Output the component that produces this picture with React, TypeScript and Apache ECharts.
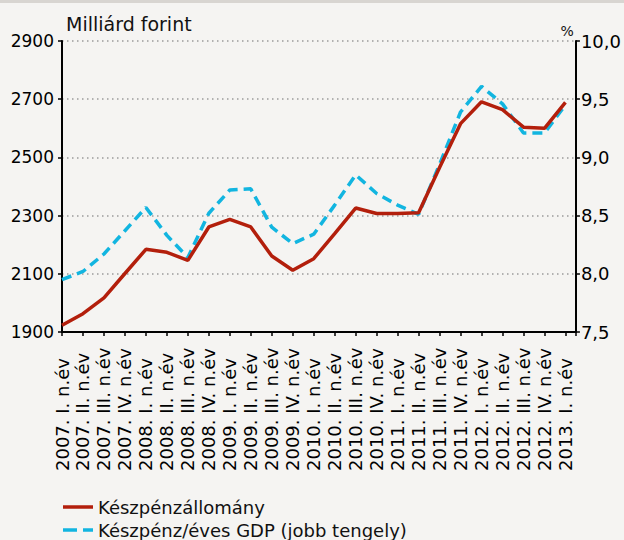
import React, { useEffect, useRef } from "react";
import * as echarts from "echarts";

const categories = [
  "2007. I. n.év", "2007. II. n.év", "2007. III. n.év", "2007. IV. n.év",
  "2008. I. n.év", "2008. II. n.év", "2008. III. n.év", "2008. IV. n.év",
  "2009. I. n.év", "2009. II. n.év", "2009. III. n.év", "2009. IV. n.év",
  "2010. I. n.év", "2010. II. n.év", "2010. III. n.év", "2010. IV. n.év",
  "2011. I. n.év", "2011. II. n.év", "2011. III. n.év", "2011. IV. n.év",
  "2012. I. n.év", "2012. II. n.év", "2012. III. n.év", "2012. IV. n.év",
  "2013. I. n.év",
];

const cashStock = [
  1923, 1963, 2017, 2101, 2184, 2174, 2146, 2261, 2287, 2261, 2161, 2112, 2152,
  2238, 2326, 2307, 2307, 2310, 2465, 2616, 2691, 2664, 2604, 2600, 2689,
];

const cashToGdp = [
  7.95, 8.02, 8.17, 8.37, 8.57, 8.33, 8.14, 8.52, 8.72, 8.73, 8.4, 8.26, 8.34,
  8.59, 8.85, 8.69, 8.59, 8.51, 8.94, 9.39, 9.61, 9.46, 9.21, 9.21, 9.45,
];

const seriesNames = ["Készpénzállomány", "Készpénz/éves GDP (jobb tengely)"];

const leftTicks = { min: 1900, max: 2900, interval: 200 };
const rightTicks = { min: 7.5, max: 10, interval: 0.5 };

const FONT = "DejaVu Sans";
const RED = "#b31f0c";
const BLUE = "#12b5e0";

export default function App() {
  const ref = useRef<HTMLDivElement>(null);

  useEffect(() => {
    if (!ref.current) return;
    const chart = echarts.init(ref.current, null, { renderer: "svg" });
    const axisLine = { show: true, lineStyle: { color: "#000", width: 2 } };
    const tick = { show: true, length: 4, lineStyle: { color: "#000", width: 1.5 } };
    chart.setOption({
      animation: false,
      backgroundColor: "#f5f4f2",
      textStyle: { fontFamily: FONT },
      graphic: [
        {
          type: "rect",
          left: 0,
          top: 0,
          shape: { width: 624, height: 3 },
          style: { fill: "#d8d5d1" },
        },
        {
          type: "line",
          shape: { x1: 63, y1: 507, x2: 93, y2: 507 },
          style: { stroke: RED, lineWidth: 3.5 },
        },
        {
          type: "text",
          x: 98,
          y: 507,
          style: {
            text: seriesNames[0],
            fontFamily: FONT,
            fontSize: 18,
            fill: "#111",
            verticalAlign: "middle",
            align: "left",
          },
        },
        {
          type: "line",
          shape: { x1: 63, y1: 530, x2: 77, y2: 530 },
          style: { stroke: BLUE, lineWidth: 3.5 },
        },
        {
          type: "line",
          shape: { x1: 83, y1: 530, x2: 93, y2: 530 },
          style: { stroke: BLUE, lineWidth: 3.5 },
        },
        {
          type: "text",
          x: 98,
          y: 530,
          style: {
            text: seriesNames[1],
            fontFamily: FONT,
            fontSize: 18,
            fill: "#111",
            verticalAlign: "middle",
            align: "left",
          },
        },
      ],
      grid: { left: 62, right: 47, top: 41, bottom: 208 },
      xAxis: {
        type: "value",
        min: 0,
        max: 24.5,
        interval: 1,
        axisLine,
        axisTick: tick,
        splitLine: { show: false },
        axisLabel: {
          rotate: 90,
          align: "left",
          verticalAlign: "middle",
          margin: 139,
          fontFamily: FONT,
          fontSize: 18,
          color: "#000",
          formatter: (v: number) =>
            Number.isInteger(v) && categories[v] ? categories[v] : "",
        },
      },
      yAxis: [
        {
          type: "value",
          ...leftTicks,
          position: "left",
          name: "Milliárd forint",
          nameLocation: "end",
          nameGap: 8,
          nameTextStyle: {
            fontFamily: FONT,
            fontSize: 19,
            color: "#111",
            align: "left",
            verticalAlign: "bottom",
            padding: [0, 0, 0, 4],
          },
          axisLine,
          axisTick: tick,
          axisLabel: {
            margin: 8,
            fontFamily: FONT,
            fontSize: 17,
            color: "#000",
            padding: [0, 0, 6, 0],
            formatter: (v: number) => String(v),
          },
          splitLine: {
            show: true,
            lineStyle: { color: "#9a9a9a", width: 1.5, type: [1.5, 3.5] },
          },
        },
        {
          type: "value",
          ...rightTicks,
          position: "right",
          name: "%",
          nameLocation: "end",
          nameGap: 3,
          nameTextStyle: {
            fontFamily: FONT,
            fontSize: 14,
            color: "#111",
            align: "right",
            verticalAlign: "bottom",
            padding: [0, 2, 0, 0],
          },
          axisLine,
          axisTick: tick,
          axisLabel: {
            margin: 5,
            fontFamily: FONT,
            fontSize: 18,
            color: "#000",
            padding: [0, 0, 4, 0],
            formatter: (v: number) => v.toFixed(1).replace(".", ","),
          },
          splitLine: { show: false },
        },
      ],
      series: [
        {
          name: seriesNames[0],
          type: "line",
          yAxisIndex: 0,
          symbol: "none",
          data: cashStock.map((v, i) => [i, v]),
          lineStyle: { color: RED, width: 3.5 },
          itemStyle: { color: RED },
          z: 3,
        },
        {
          name: seriesNames[1],
          type: "line",
          yAxisIndex: 1,
          symbol: "none",
          data: cashToGdp.map((v, i) => [i, v]),
          lineStyle: { color: BLUE, width: 3.5, type: [10, 6] },
          itemStyle: { color: BLUE },
          z: 2,
        },
      ],
    });
    return () => chart.dispose();
  }, []);

  return (
    <div
      ref={ref}
      style={{ position: "fixed", left: 0, top: 0, width: 624, height: 540 }}
    />
  );
}
